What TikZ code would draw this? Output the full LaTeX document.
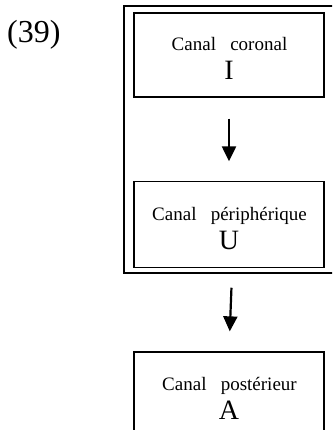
\documentclass[tikz,border=0pt]{standalone}
\usepackage{fontspec}
\setmainfont{Liberation Serif}
\usetikzlibrary{arrows.meta}
\tikzset{
  framebox/.style={draw, line width=1.5pt, rectangle, minimum width=216pt, minimum height=267pt, inner sep=0pt},
  stagebox/.style={draw, line width=1.3pt, rectangle, minimum width=190pt, inner sep=0pt},
  lab/.style={anchor=base, inner sep=0pt, font=\fontsize{19}{22}\selectfont},
  letr/.style={anchor=base, inner sep=0pt, font=\fontsize{28}{30}\selectfont},
  arr/.style={line width=2.2pt, -{Triangle[width=14pt,length=15pt]}},
}
\begin{document}
\begin{tikzpicture}[x=1pt,y=-1pt]
\useasboundingbox (0,0) rectangle (332,430);
\clip (0,0) rectangle (332,430);
\node[anchor=base west, inner sep=0pt, font=\fontsize{32}{36}\selectfont] (num) at (7,43) {(39)};
\node[framebox] (frame) at (232,139.5) {};
\node[stagebox, minimum height=84pt] (b1) at (229,55) {};
\node[stagebox, minimum height=86pt] (b2) at (229,224.5) {};
\node[stagebox, minimum height=90pt] (b3) at (229,397) {};
\node[lab] (t1) at (229.5,51) {Canal\hspace{0.75em}coronal};
\node[letr] (l1) at (229,80) {I};
\node[lab] (t2) at (229.5,220) {Canal\hspace{0.75em}périphérique};
\node[letr] (l2) at (229,249) {U};
\node[lab] (t3) at (229.5,390) {Canal\hspace{0.75em}postérieur};
\node[letr] (l3) at (229,419) {A};
\draw[arr, shorten <=21pt, shorten >=19.5pt] (b1.south) -- (b2.north);
\draw[arr, shorten <=14pt, shorten >=20pt] (frame.south) -- (b3.north);
\end{tikzpicture}
\end{document}
